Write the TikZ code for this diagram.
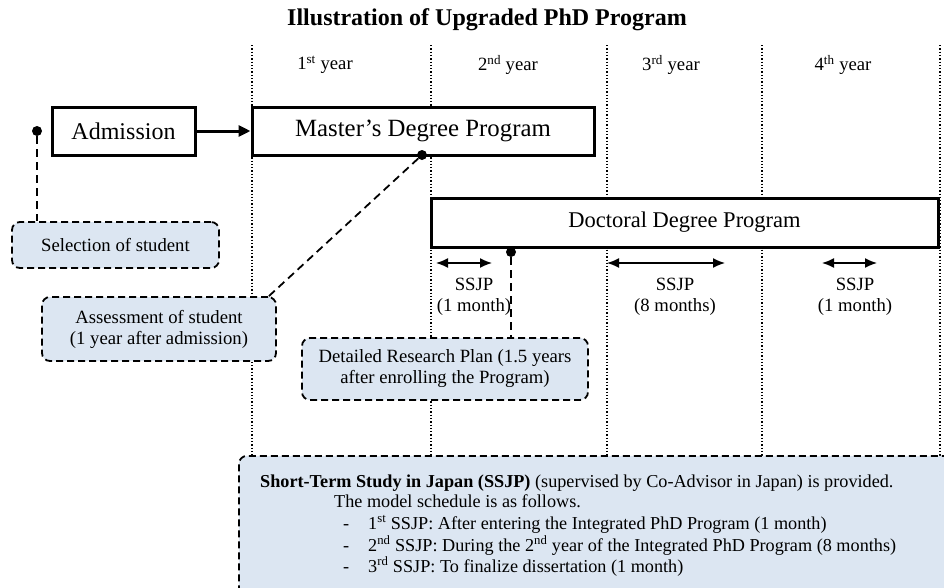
\documentclass[tikz,border=0pt]{standalone}
\usepackage{fontspec}
\setmainfont{Liberation Serif}
\usetikzlibrary{arrows.meta,calc}
\definecolor{notefill}{RGB}{220,230,242}
\tikzset{
  prog/.style={draw, line width=3pt, fill=white, font=\fontsize{24}{26}\selectfont, inner sep=0pt},
  note/.style={draw, dash pattern=on 7pt off 4pt, line width=1.8pt, rounded corners=8pt, fill=notefill, font=\fontsize{18.7}{21}\selectfont, align=center, inner sep=0pt},
  link/.style={dash pattern=on 8pt off 5pt, line width=1.8pt},
  yearline/.style={dotted, line width=1.3pt},
  ssjp/.style={{Latex[length=12pt,width=10pt]}-{Latex[length=12pt,width=10pt]}, line width=1.5pt},
  lbl/.style={font=\fontsize{18.7}{20.5}\selectfont, align=center, inner sep=0pt},
  infotext/.style={font=\fontsize{18.2}{20}\selectfont, inner sep=0pt, anchor=base west},
  pin/.style={circle, fill, inner sep=0pt, minimum size=10pt},
}
\begin{document}
\begin{tikzpicture}[x=1pt, y=-1pt]
		\clip (0,0) rectangle (944,587);
		\useasboundingbox (0,0) rectangle (944,587);
		
		%title
		\node[font=\bfseries\fontsize{24}{26}\selectfont] (title) at (487,20) {Illustration of Upgraded PhD Program};
		
		%year grid
		\foreach \x in {252, 431, 607, 762, 940}{
			\draw[yearline] (\x,45) -- (\x,460);
		}
		\foreach \x/\n/\s in {325/1/st, 508/2/nd, 671/3/rd, 843/4/th}{
			\node[lbl] (year\n) at (\x,65) {\n\textsuperscript{\s} year};
		}
		
		%programs
		\node[prog, minimum width=143pt, minimum height=48pt] (adm) at (123.5,131) {Admission};
		\node[prog, minimum width=342pt, minimum height=48pt, font=\fontsize{24.8}{26}\selectfont] (mdp) at (423,131) {Master's Degree Program};
		\node[prog, minimum width=507pt, minimum height=49pt, font=\fontsize{22.5}{24}\selectfont] (ddp) at (684.5,222.5) {Doctoral Degree Program};
		\draw[-{Triangle[length=12pt,width=11pt]}, line width=3pt] (adm) -- (mdp);
		
		%notes
		\node[note, minimum width=207pt, minimum height=46pt] (sel) at (115.5,245) {Selection of student};
		\node[note, minimum width=234pt, minimum height=64pt] (assess) at (159,329) {Assessment of student\\(1 year after admission)};
		\node[note, minimum width=286pt, minimum height=62pt] (plan) at (445,369) {Detailed Research Plan (1.5 years\\after enrolling the Program)};
		\node[note, minimum width=740pt, minimum height=160pt, anchor=north west] (info) at (238,455) {};
		
		\node[pin] (selpin) at (37,131) {};
		\node[pin] (asspin) at (422,155) {};
		\node[pin] (planpin) at (511,252) {};
		\draw[link] (selpin) -- (sel.north -| selpin);
		\draw[link] (asspin) -- ($(assess.north east)+(-8,0)$);
		\draw[link] (planpin) -- (plan.north -| planpin);
		
		%SSJP periods
		\coordinate (s1a) at (436,263); \coordinate (s1b) at (492,263);
		\coordinate (s2a) at (607,263); \coordinate (s2b) at (725,263);
		\coordinate (s3a) at (822,263); \coordinate (s3b) at (877,263);
		\draw[ssjp] (s1a) -- (s1b);
		\draw[ssjp] (s2a) -- (s2b);
		\draw[ssjp] (s3a) -- (s3b);
		\node[lbl] (ssjp1) at (474,297) {SSJP\\(1 month)};
		\node[lbl] (ssjp2) at (675,297) {SSJP\\(8 months)};
		\node[lbl] (ssjp3) at (855,297) {SSJP\\(1 month)};
		
		%schedule text
		\node[infotext] (info1) at (260,487) {\textbf{Short-Term Study in Japan (SSJP)} (supervised by Co-Advisor in Japan) is provided.};
		\node[infotext] (info2) at (334,507) {The model schedule is as follows.};
		\node[infotext] (dash1) at (343,529) {-};
		\node[infotext] (dash2) at (343,551) {-};
		\node[infotext] (dash3) at (343,572) {-};
		\node[infotext] (item1) at (368,529) {1\textsuperscript{st} SSJP: After entering the Integrated PhD Program (1 month)};
		\node[infotext] (item2) at (368,551) {2\textsuperscript{nd} SSJP: During the 2\textsuperscript{nd} year of the Integrated PhD Program (8 months)};
		\node[infotext] (item3) at (368,572) {3\textsuperscript{rd} SSJP: To finalize dissertation (1 month)};
\end{tikzpicture}
\end{document}
